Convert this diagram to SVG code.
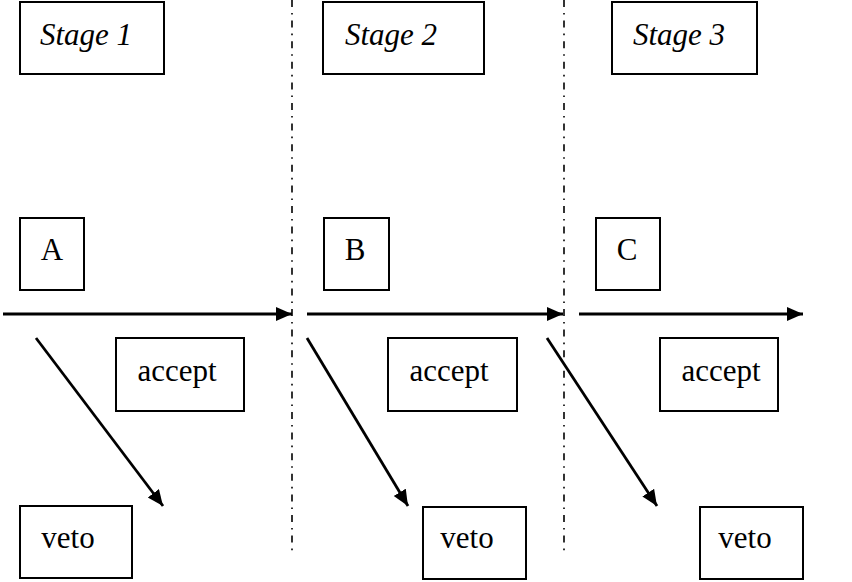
<svg xmlns="http://www.w3.org/2000/svg" width="852" height="582" viewBox="0 0 852 582">
<style>
.box{fill:#fff;stroke:#000;stroke-width:2}
.t{font-family:"Liberation Serif","Times New Roman",serif;font-size:31px;fill:#000}
.i{font-style:italic}
.sep{stroke:#000;stroke-width:1.6;stroke-dasharray:7 6 1.6 6;fill:none}
.arr{stroke:#000;stroke-width:2.8;fill:none;marker-end:url(#ah)}
</style>
<defs>
<marker id="ah" markerUnits="userSpaceOnUse" markerWidth="18" markerHeight="15" refX="16" refY="7" orient="auto">
<path d="M0,0 L16,7 L0,14 Z" fill="#000"/>
</marker>
</defs>
<rect width="852" height="582" fill="#fff"/>
<g id="separators">
<line class="sep" x1="292" y1="0" x2="292" y2="552"/>
<line class="sep" x1="564" y1="0" x2="564" y2="552"/>
</g>
<g id="stage1"><rect class="box" x="20" y="2" width="144" height="72"/><text class="t i" x="40" y="45">Stage 1</text></g>
<g id="stage2"><rect class="box" x="323" y="2" width="161" height="72"/><text class="t i" x="345" y="45">Stage 2</text></g>
<g id="stage3"><rect class="box" x="612" y="2" width="145" height="72"/><text class="t i" x="633" y="45">Stage 3</text></g>
<g id="A"><rect class="box" x="20" y="218" width="64" height="72"/><text class="t" x="52" y="260" text-anchor="middle">A</text></g>
<g id="B"><rect class="box" x="324" y="218" width="65" height="72"/><text class="t" x="355" y="260" text-anchor="middle">B</text></g>
<g id="C"><rect class="box" x="596" y="218" width="64" height="72"/><text class="t" x="627" y="260" text-anchor="middle">C</text></g>
<g id="accept1"><rect class="box" x="116" y="338" width="128" height="73"/><text class="t" x="177" y="381" text-anchor="middle">accept</text></g>
<g id="accept2"><rect class="box" x="388" y="338" width="129" height="73"/><text class="t" x="449" y="381" text-anchor="middle">accept</text></g>
<g id="accept3"><rect class="box" x="660" y="338" width="118" height="73"/><text class="t" x="721" y="381" text-anchor="middle">accept</text></g>
<g id="veto1"><rect class="box" x="20" y="506" width="112" height="72"/><text class="t" x="68" y="548" text-anchor="middle">veto</text></g>
<g id="veto2"><rect class="box" x="423" y="507" width="103" height="72"/><text class="t" x="467" y="548" text-anchor="middle">veto</text></g>
<g id="veto3"><rect class="box" x="700" y="507" width="103" height="72"/><text class="t" x="745" y="548" text-anchor="middle">veto</text></g>
<g id="connectors">
<line class="arr" x1="3" y1="314" x2="292" y2="314"/>
<line class="arr" x1="307" y1="314" x2="563" y2="314"/>
<line class="arr" x1="579" y1="314" x2="803" y2="314"/>
<line class="arr" x1="36" y1="338" x2="163" y2="506"/>
<line class="arr" x1="307" y1="338" x2="408" y2="506"/>
<line class="arr" x1="547" y1="338" x2="657" y2="506"/>
</g>
</svg>
